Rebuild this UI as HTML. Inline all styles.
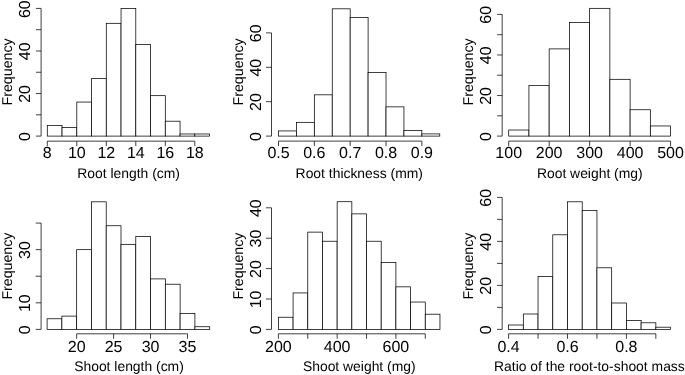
<!DOCTYPE html><html><head><meta charset="utf-8"><title>Histograms</title><style>html,body{margin:0;padding:0;background:#fff}svg{display:block;will-change:transform;opacity:.999}text{text-rendering:geometricPrecision;font-family:"Liberation Sans",Arial,sans-serif;font-size:14.2px;fill:#000}text.t{font-size:16.0px}text.x{font-size:13.9px}</style></head><body>
<svg width="685" height="375" viewBox="0 0 685 375">
<rect width="685" height="375" fill="#fff"/>
<g fill="none" stroke="#000" stroke-width="0.75">
<rect x="47.3" y="125.46" width="14.75" height="10.64" fill="#fff"/>
<rect x="62.05" y="127.59" width="14.75" height="8.51" fill="#fff"/>
<rect x="76.8" y="102.05" width="14.75" height="34.05" fill="#fff"/>
<rect x="91.55" y="78.64" width="14.75" height="57.46" fill="#fff"/>
<rect x="106.3" y="23.32" width="14.75" height="112.78" fill="#fff"/>
<rect x="121.05" y="8.42" width="14.75" height="127.68" fill="#fff"/>
<rect x="135.8" y="44.6" width="14.75" height="91.5" fill="#fff"/>
<rect x="150.55" y="95.67" width="14.75" height="40.43" fill="#fff"/>
<rect x="165.3" y="121.2" width="14.75" height="14.9" fill="#fff"/>
<rect x="180.05" y="133.97" width="14.75" height="2.13" fill="#fff"/>
<rect x="194.8" y="133.97" width="14.75" height="2.13" fill="#fff"/>
<path d="M41.1 8.42V136.1M41.1 136.1h-5.2M41.1 114.82h-5.2M41.1 93.54h-5.2M41.1 72.26h-5.2M41.1 50.98h-5.2M41.1 29.7h-5.2M41.1 8.42h-5.2M47.3 141.15H194.8M47.3 141.15v5M76.8 141.15v5M106.3 141.15v5M135.8 141.15v5M165.3 141.15v5M194.8 141.15v5"/>
</g>
<text class="t" text-anchor="middle" transform="translate(30.1 136.5) rotate(-90)">0</text>
<text class="t" text-anchor="middle" transform="translate(30.1 93.94) rotate(-90)">20</text>
<text class="t" text-anchor="middle" transform="translate(30.1 51.38) rotate(-90)">40</text>
<text class="t" text-anchor="middle" transform="translate(30.1 9.22) rotate(-90)">60</text>
<text class="t" text-anchor="middle" x="47.3" y="158.3">8</text>
<text class="t" text-anchor="middle" x="76.8" y="158.3">10</text>
<text class="t" text-anchor="middle" x="106.3" y="158.3">12</text>
<text class="t" text-anchor="middle" x="135.8" y="158.3">14</text>
<text class="t" text-anchor="middle" x="165.3" y="158.3">16</text>
<text class="t" text-anchor="middle" x="194.8" y="158.3">18</text>
<text class="x" text-anchor="middle" x="128.6" y="177.9">Root length (cm)</text>
<text text-anchor="middle" transform="translate(12 71.9) rotate(-90)">Frequency</text>
<g fill="none" stroke="#000" stroke-width="0.75">
<rect x="278.5" y="130.94" width="17.92" height="5.16" fill="#fff"/>
<rect x="296.42" y="122.34" width="17.92" height="13.76" fill="#fff"/>
<rect x="314.34" y="94.82" width="17.92" height="41.28" fill="#fff"/>
<rect x="332.26" y="8.82" width="17.92" height="127.28" fill="#fff"/>
<rect x="350.18" y="17.42" width="17.92" height="118.68" fill="#fff"/>
<rect x="368.1" y="72.46" width="17.92" height="63.64" fill="#fff"/>
<rect x="386.02" y="106.86" width="17.92" height="29.24" fill="#fff"/>
<rect x="403.94" y="130.6" width="17.92" height="5.5" fill="#fff"/>
<rect x="421.86" y="133.9" width="17.92" height="2.2" fill="#fff"/>
<path d="M271.5 32.9V136.1M271.5 136.1h-5.5M271.5 101.7h-5.5M271.5 67.3h-5.5M271.5 32.9h-5.5M278.5 141.1H421.86M278.5 141.1v5M314.34 141.1v5M350.18 141.1v5M386.02 141.1v5M421.86 141.1v5"/>
</g>
<text class="t" text-anchor="middle" transform="translate(260.5 136.5) rotate(-90)">0</text>
<text class="t" text-anchor="middle" transform="translate(260.5 102.1) rotate(-90)">20</text>
<text class="t" text-anchor="middle" transform="translate(260.5 67.7) rotate(-90)">40</text>
<text class="t" text-anchor="middle" transform="translate(260.5 33.3) rotate(-90)">60</text>
<text class="t" text-anchor="middle" x="278.5" y="158.3">0.5</text>
<text class="t" text-anchor="middle" x="314.34" y="158.3">0.6</text>
<text class="t" text-anchor="middle" x="350.18" y="158.3">0.7</text>
<text class="t" text-anchor="middle" x="386.02" y="158.3">0.8</text>
<text class="t" text-anchor="middle" x="421.86" y="158.3">0.9</text>
<text class="x" text-anchor="middle" x="359.3" y="177.6">Root thickness (mm)</text>
<text text-anchor="middle" transform="translate(243 71.9) rotate(-90)">Frequency</text>
<g fill="none" stroke="#000" stroke-width="0.75">
<rect x="508.7" y="130.02" width="20.23" height="6.08" fill="#fff"/>
<rect x="528.93" y="85.4" width="20.23" height="50.7" fill="#fff"/>
<rect x="549.17" y="48.9" width="20.23" height="87.2" fill="#fff"/>
<rect x="569.4" y="22.53" width="20.23" height="113.57" fill="#fff"/>
<rect x="589.64" y="8.34" width="20.23" height="127.76" fill="#fff"/>
<rect x="609.88" y="79.32" width="20.23" height="56.78" fill="#fff"/>
<rect x="630.11" y="109.74" width="20.23" height="26.36" fill="#fff"/>
<rect x="650.35" y="125.96" width="20.23" height="10.14" fill="#fff"/>
<path d="M502.2 14.42V136.1M502.2 136.1h-5.1M502.2 115.82h-5.1M502.2 95.54h-5.1M502.2 75.26h-5.1M502.2 54.98h-5.1M502.2 34.7h-5.1M502.2 14.42h-5.1M508.7 141.1H670.58M508.7 141.1v5M549.17 141.1v5M589.64 141.1v5M630.11 141.1v5M670.58 141.1v5"/>
</g>
<text class="t" text-anchor="middle" transform="translate(491.2 136.5) rotate(-90)">0</text>
<text class="t" text-anchor="middle" transform="translate(491.2 95.94) rotate(-90)">20</text>
<text class="t" text-anchor="middle" transform="translate(491.2 55.38) rotate(-90)">40</text>
<text class="t" text-anchor="middle" transform="translate(491.2 14.82) rotate(-90)">60</text>
<text class="t" text-anchor="middle" x="508.7" y="158.3">100</text>
<text class="t" text-anchor="middle" x="549.17" y="158.3">200</text>
<text class="t" text-anchor="middle" x="589.64" y="158.3">300</text>
<text class="t" text-anchor="middle" x="630.11" y="158.3">400</text>
<text class="t" text-anchor="middle" x="670.58" y="158.3">500</text>
<text class="x" text-anchor="middle" x="589.8" y="177.6">Root weight (mg)</text>
<text text-anchor="middle" transform="translate(473 71.9) rotate(-90)">Frequency</text>
<g fill="none" stroke="#000" stroke-width="0.75">
<rect x="47.1" y="318.77" width="14.78" height="10.63" fill="#fff"/>
<rect x="61.88" y="316.11" width="14.78" height="13.29" fill="#fff"/>
<rect x="76.66" y="249.66" width="14.78" height="79.74" fill="#fff"/>
<rect x="91.44" y="201.82" width="14.78" height="127.58" fill="#fff"/>
<rect x="106.22" y="225.74" width="14.78" height="103.66" fill="#fff"/>
<rect x="121" y="244.34" width="14.78" height="85.06" fill="#fff"/>
<rect x="135.78" y="236.37" width="14.78" height="93.03" fill="#fff"/>
<rect x="150.56" y="278.9" width="14.78" height="50.5" fill="#fff"/>
<rect x="165.34" y="284.21" width="14.78" height="45.19" fill="#fff"/>
<rect x="180.12" y="313.45" width="14.78" height="15.95" fill="#fff"/>
<rect x="194.9" y="326.74" width="14.78" height="2.66" fill="#fff"/>
<path d="M41.1 223.08V329.4M41.1 329.4h-5.4M41.1 302.82h-5.4M41.1 276.24h-5.4M41.1 249.66h-5.4M41.1 223.08h-5.4M76.66 333.8H187.51M76.66 333.8v5M113.61 333.8v5M150.56 333.8v5M187.51 333.8v5"/>
</g>
<text class="t" text-anchor="middle" transform="translate(30.1 329.8) rotate(-90)">0</text>
<text class="t" text-anchor="middle" transform="translate(30.1 303.22) rotate(-90)">10</text>
<text class="t" text-anchor="middle" transform="translate(30.1 250.06) rotate(-90)">30</text>
<text class="t" text-anchor="middle" x="76.66" y="351.7">20</text>
<text class="t" text-anchor="middle" x="113.61" y="351.7">25</text>
<text class="t" text-anchor="middle" x="150.56" y="351.7">30</text>
<text class="t" text-anchor="middle" x="187.51" y="351.7">35</text>
<text class="x" text-anchor="middle" x="129" y="371.2">Shoot length (cm)</text>
<text text-anchor="middle" transform="translate(12 266.1) rotate(-90)">Frequency</text>
<g fill="none" stroke="#000" stroke-width="0.75">
<rect x="278.4" y="317.24" width="14.69" height="12.16" fill="#fff"/>
<rect x="293.09" y="292.92" width="14.69" height="36.48" fill="#fff"/>
<rect x="307.77" y="232.12" width="14.69" height="97.28" fill="#fff"/>
<rect x="322.46" y="241.24" width="14.69" height="88.16" fill="#fff"/>
<rect x="337.15" y="201.72" width="14.69" height="127.68" fill="#fff"/>
<rect x="351.84" y="213.88" width="14.69" height="115.52" fill="#fff"/>
<rect x="366.52" y="241.24" width="14.69" height="88.16" fill="#fff"/>
<rect x="381.21" y="262.52" width="14.69" height="66.88" fill="#fff"/>
<rect x="395.9" y="286.84" width="14.69" height="42.56" fill="#fff"/>
<rect x="410.59" y="302.04" width="14.69" height="27.36" fill="#fff"/>
<rect x="425.27" y="314.2" width="14.69" height="15.2" fill="#fff"/>
<path d="M271.5 207.8V329.4M271.5 329.4h-5.6M271.5 299h-5.6M271.5 268.6h-5.6M271.5 238.2h-5.6M271.5 207.8h-5.6M278.4 333.8H425.27M278.4 333.8v5M307.77 333.8v5M337.15 333.8v5M366.52 333.8v5M395.9 333.8v5M425.27 333.8v5"/>
</g>
<text class="t" text-anchor="middle" transform="translate(260.5 329.8) rotate(-90)">0</text>
<text class="t" text-anchor="middle" transform="translate(260.5 299.4) rotate(-90)">10</text>
<text class="t" text-anchor="middle" transform="translate(260.5 269) rotate(-90)">20</text>
<text class="t" text-anchor="middle" transform="translate(260.5 238.6) rotate(-90)">30</text>
<text class="t" text-anchor="middle" transform="translate(260.5 208.2) rotate(-90)">40</text>
<text class="t" text-anchor="middle" x="278.4" y="351.7">200</text>
<text class="t" text-anchor="middle" x="337.15" y="351.7">400</text>
<text class="t" text-anchor="middle" x="395.9" y="351.7">600</text>
<text class="x" text-anchor="middle" x="359.3" y="371.2">Shoot weight (mg)</text>
<text text-anchor="middle" transform="translate(243 266.1) rotate(-90)">Frequency</text>
<g fill="none" stroke="#000" stroke-width="0.75">
<rect x="508.6" y="325" width="14.73" height="4.4" fill="#fff"/>
<rect x="523.33" y="314" width="14.73" height="15.4" fill="#fff"/>
<rect x="538.05" y="276.6" width="14.73" height="52.8" fill="#fff"/>
<rect x="552.77" y="234.8" width="14.73" height="94.6" fill="#fff"/>
<rect x="567.5" y="201.8" width="14.73" height="127.6" fill="#fff"/>
<rect x="582.23" y="210.6" width="14.73" height="118.8" fill="#fff"/>
<rect x="596.95" y="267.8" width="14.73" height="61.6" fill="#fff"/>
<rect x="611.68" y="303" width="14.73" height="26.4" fill="#fff"/>
<rect x="626.4" y="320.6" width="14.73" height="8.8" fill="#fff"/>
<rect x="641.12" y="322.8" width="14.73" height="6.6" fill="#fff"/>
<rect x="655.85" y="327.2" width="14.73" height="2.2" fill="#fff"/>
<path d="M502.2 197.4V329.4M502.2 329.4h-5.2M502.2 307.4h-5.2M502.2 285.4h-5.2M502.2 263.4h-5.2M502.2 241.4h-5.2M502.2 219.4h-5.2M502.2 197.4h-5.2M508.6 333.8H655.85M508.6 333.8v5M538.05 333.8v5M567.5 333.8v5M596.95 333.8v5M626.4 333.8v5M655.85 333.8v5"/>
</g>
<text class="t" text-anchor="middle" transform="translate(491.2 329.8) rotate(-90)">0</text>
<text class="t" text-anchor="middle" transform="translate(491.2 285.8) rotate(-90)">20</text>
<text class="t" text-anchor="middle" transform="translate(491.2 241.8) rotate(-90)">40</text>
<text class="t" text-anchor="middle" transform="translate(491.2 197.8) rotate(-90)">60</text>
<text class="t" text-anchor="middle" x="508.6" y="351.7">0.4</text>
<text class="t" text-anchor="middle" x="567.5" y="351.7">0.6</text>
<text class="t" text-anchor="middle" x="626.4" y="351.7">0.8</text>
<text class="x" text-anchor="middle" x="589.4" y="371.2">Ratio of the root-to-shoot mass</text>
<text text-anchor="middle" transform="translate(473 266.1) rotate(-90)">Frequency</text>
</svg></body></html>
